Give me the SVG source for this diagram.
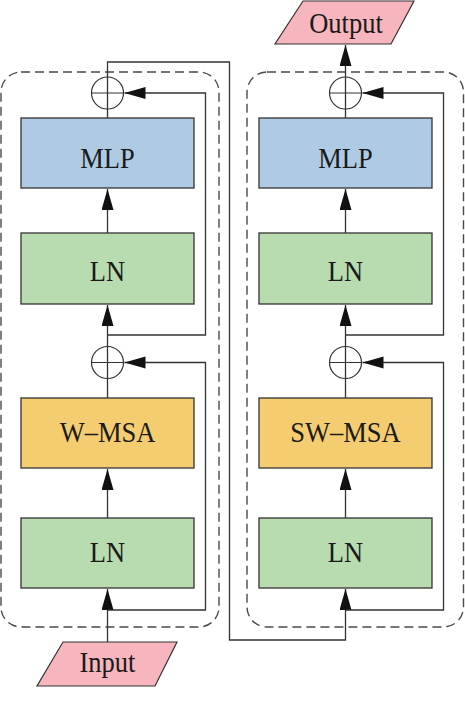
<svg xmlns="http://www.w3.org/2000/svg" width="465" height="703" viewBox="0 0 465 703">
<style>
.frame{fill:none;stroke:#4a4a4a;stroke-width:1.4;stroke-dasharray:9 5}
.box{stroke:#333;stroke-width:1.3}
.mlp{fill:#afcbe4}
.ln{fill:#b9dbb0}
.msa{fill:#f5cd71}
.io{fill:#f7b6bd;stroke:#333;stroke-width:1.2}
.add{fill:none;stroke:#333;stroke-width:1.2}
text{font-family:'Liberation Serif','Times New Roman','DejaVu Serif',serif;font-size:26.5px;fill:#1a1a1a;text-anchor:middle}
.con{fill:none;stroke:#333;stroke-width:1.3}
</style>
<defs>
<marker id="ah" markerUnits="userSpaceOnUse" markerWidth="22" markerHeight="13" refX="21" refY="6" orient="auto">
<path d="M0,0 L21,6 L0,12 Z" fill="#111"/>
</marker>
</defs>
<rect class="frame" x="1" y="72" width="218" height="555" rx="20"/>
<rect class="frame" x="247" y="72" width="216.5" height="555" rx="20"/>
<g id="connectors">
<path class="con" d="M107.5,642 V589" marker-end="url(#ah)"/>
<path class="con" d="M107.5,610 H205.5 V362.5 H124.5" marker-end="url(#ah)"/>
<path class="con" d="M107.5,518 V469" marker-end="url(#ah)"/>
<path class="con" d="M107.5,398 V346.5"/>
<path class="con" d="M107.5,346.5 V305" marker-end="url(#ah)"/>
<path class="con" d="M107.5,335 H205.5 V93 H124.5" marker-end="url(#ah)"/>
<path class="con" d="M107.5,233 V189" marker-end="url(#ah)"/>
<path class="con" d="M107.5,118 V77 V62 H229.5 V640 H345.5 V589" marker-end="url(#ah)"/>
<path class="con" d="M345.5,610 H443.5 V362.5 H362.5" marker-end="url(#ah)"/>
<path class="con" d="M345.5,518 V469" marker-end="url(#ah)"/>
<path class="con" d="M345.5,398 V346.5"/>
<path class="con" d="M345.5,346.5 V305" marker-end="url(#ah)"/>
<path class="con" d="M345.5,335 H443.5 V93 H362.5" marker-end="url(#ah)"/>
<path class="con" d="M345.5,233 V189" marker-end="url(#ah)"/>
<path class="con" d="M345.5,118 V45" marker-end="url(#ah)"/>
</g>
<g id="input">
<polygon class="io" points="63,642 177,642 155,686 37,686"/>
<text transform="translate(107.5,672) scale(1,1.1)">Input</text>
</g>
<g id="ln1">
<rect class="box ln" x="21" y="518" width="173" height="70"/>
<text transform="translate(107.5,562) scale(1,1.1)">LN</text>
</g>
<g id="wmsa">
<rect class="box msa" x="21" y="398" width="173" height="70"/>
<text transform="translate(107.5,442) scale(1,1.1)">W–MSA</text>
</g>
<g id="add1">
<circle class="add" cx="107.5" cy="362.5" r="16"/>
<line class="add" x1="91.5" y1="362.5" x2="123.5" y2="362.5"/>
</g>
<g id="ln2">
<rect class="box ln" x="21" y="233" width="173" height="71"/>
<text transform="translate(107.5,281) scale(1,1.1)">LN</text>
</g>
<g id="mlp1">
<rect class="box mlp" x="21" y="118" width="173" height="70"/>
<text transform="translate(107.5,168) scale(1,1.1)">MLP</text>
</g>
<g id="add2">
<circle class="add" cx="107.5" cy="93" r="16"/>
<line class="add" x1="91.5" y1="93" x2="123.5" y2="93"/>
</g>
<g id="ln3">
<rect class="box ln" x="259" y="518" width="173" height="70"/>
<text transform="translate(345.5,562) scale(1,1.1)">LN</text>
</g>
<g id="swmsa">
<rect class="box msa" x="259" y="398" width="173" height="70"/>
<text transform="translate(345.5,442) scale(1,1.1)">SW–MSA</text>
</g>
<g id="add3">
<circle class="add" cx="345.5" cy="362.5" r="16"/>
<line class="add" x1="329.5" y1="362.5" x2="361.5" y2="362.5"/>
</g>
<g id="ln4">
<rect class="box ln" x="259" y="233" width="173" height="71"/>
<text transform="translate(345.5,281) scale(1,1.1)">LN</text>
</g>
<g id="mlp2">
<rect class="box mlp" x="259" y="118" width="173" height="70"/>
<text transform="translate(345.5,168) scale(1,1.1)">MLP</text>
</g>
<g id="add4">
<circle class="add" cx="345.5" cy="93" r="16"/>
<line class="add" x1="329.5" y1="93" x2="361.5" y2="93"/>
</g>
<g id="output">
<polygon class="io" points="303,1 414,1 391,44 275,44"/>
<text transform="translate(346,33) scale(1,1.1)">Output</text>
</g>
</svg>
